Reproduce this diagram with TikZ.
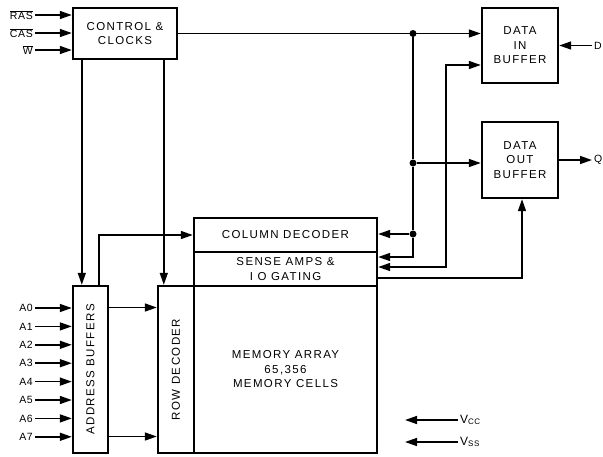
\documentclass[tikz,border=0pt]{standalone}
\usepackage{fontspec}
\newfontfamily\blockfont{Liberation Sans}[LetterSpace=12]
\newfontfamily\pinfont{Liberation Sans}[LetterSpace=6]
\usepackage{tikz}
\usetikzlibrary{positioning, arrows.meta, calc}

\begin{document}
\begin{tikzpicture}[
    x=1pt, y=-1pt,
    block/.style={rectangle, draw, line width=2.4pt, inner sep=0pt, align=center, font=\blockfont\fontsize{11.5}{14.5}\selectfont},
    pin/.style={inner sep=2pt, font=\pinfont\fontsize{10.5}{12}\selectfont},
    arrow/.style={-{Triangle[length=12pt, width=8pt]}, line width=1.5pt},
    both/.style={{Triangle[length=12pt, width=8pt]}-{Triangle[length=12pt, width=8pt]}, line width=1.5pt},
    wire/.style={line width=1.5pt},
    dot/.style={circle, fill, inner sep=0pt, minimum size=7pt}
]
    \useasboundingbox (0,0) rectangle (603,456);

    % Control
    \node[block, minimum width=104pt, minimum height=51pt] (control) at (125,33.5) {CONTROL \&\\CLOCKS};

    % Data buffers
    \node[block, minimum width=76pt, minimum height=75pt] (datain) at (520,45.5) {DATA\\IN\\BUFFER};
    \node[block, minimum width=76pt, minimum height=76pt] (dataout) at (520,160) {DATA\\OUT\\BUFFER};

    % Array
    \node[block, minimum width=183pt, minimum height=34pt] (coldec) at (285.5,235) {COLUMN DECODER};
    \node[block, minimum width=183pt, minimum height=34pt] (sense) at (285.5,269) {SENSE AMPS \&\\I O GATING};
    \node[block, minimum width=183pt, minimum height=167pt] (memarr) at (285.5,369.5) {MEMORY ARRAY\\65,356\\MEMORY CELLS};
    \node[block, minimum width=36pt, minimum height=167pt] (rowdec) at (176,369.5) {\rotatebox{90}{ROW DECODER}};

    % Address buffers
    \node[block, minimum width=35pt, minimum height=167pt] (abuf) at (90.5,369.5) {\rotatebox{90}{ADDRESS BUFFERS}};

    % Control inputs
    \node[pin, anchor=east] (ras) at (35,15) {$\overline{\mbox{RAS}}$};
    \node[pin, anchor=east] (cas) at (35,33) {$\overline{\mbox{CAS}}$};
    \node[pin, anchor=east] (w) at (35,50) {$\overline{\mbox{W}}$};
    \draw[arrow] (ras.east) -- (ras.east -| control.west);
    \draw[arrow] (cas.east) -- (cas.east -| control.west);
    \draw[arrow] (w.east) -- (w.east -| control.west);

    % Address inputs
    \foreach \i in {0,...,7}
    {
        \node[pin, anchor=east] (a\i) at (35,308+18.4*\i) {A\i};
        \draw[arrow] (a\i.east) -- (a\i.east -| abuf.west);
    }

    % Data pins
    \node[pin, anchor=west] (din) at (592,45.5) {D};
    \node[pin, anchor=west] (dout) at (592,160) {Q};
    \draw[arrow] (din.west) -- (datain.east);
    \draw[arrow] (dataout.east) -- (dout.west);

    % Control bus
    \node[dot] (j1) at (413,33.5) {};
    \node[dot] (j2) at (413,163) {};
    \node[dot] (j3) at (413,234) {};
    \draw[arrow] (control.east) -- (control.east -| datain.west);
    \draw[wire] (j1) -- (j2) -- (j3);
    \draw[arrow] (j2) -- (j2 -| dataout.west);
    \draw[arrow] (j3) -- (j3 -| coldec.east);
    \draw[arrow] (j3) |- ([yshift=12pt]sense.east);

    % Data paths
    \coordinate (din2) at ([yshift=-19.5pt]datain.west);
    \coordinate (bend) at ([xshift=-35pt]din2);
    \draw[both] ([yshift=2pt]sense.east) -| (bend) -- (din2);
    \draw[arrow] ([yshift=-9pt]sense.east) -| ([xshift=2pt]dataout.south);

    % Control to buffers and decoder
    \coordinate (ab1) at ([xshift=10pt]abuf.north west);
    \coordinate (ab2) at ([xshift=27pt]abuf.north west);
    \coordinate (rd1) at ([xshift=7pt]rowdec.north west);
    \draw[arrow] (ab1 |- control.south) -- (ab1);
    \draw[arrow] (rd1 |- control.south) -- (rd1);
    \draw[arrow] (ab2) |- (coldec.west);

    % Address buffers to row decoder
    \coordinate (r0) at ([yshift=62pt]abuf.east);
    \coordinate (r7) at ([yshift=-67pt]abuf.east);
    \draw[arrow] (r0) -- (r0 -| rowdec.west);
    \draw[arrow] (r7) -- (r7 -| rowdec.west);

    % Supplies
    \node[pin, anchor=west, font=\pinfont\fontsize{12}{13}\selectfont] (vcc) at (458,420) {V\textsubscript{CC}};
    \node[pin, anchor=west, font=\pinfont\fontsize{12}{13}\selectfont] (vss) at (458,442) {V\textsubscript{SS}};
    \coordinate (vccend) at (405,420);
    \coordinate (vssend) at (405,442);
    \draw[arrow] (vcc.west) -- (vccend);
    \draw[arrow] (vss.west) -- (vssend);
\end{tikzpicture}
\end{document}
